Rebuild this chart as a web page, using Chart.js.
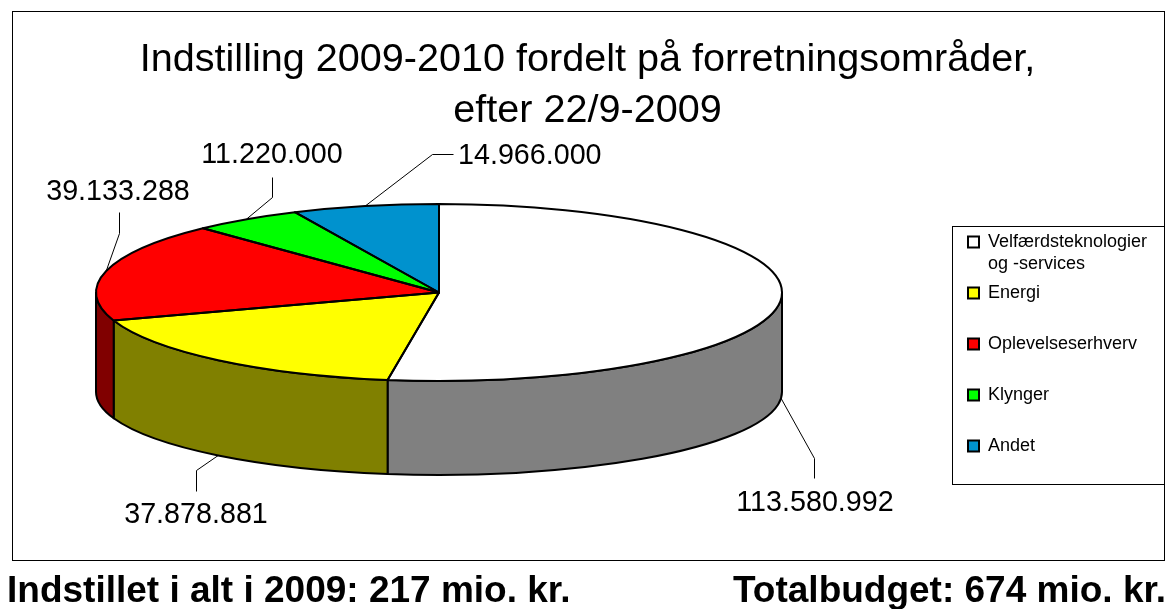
<!DOCTYPE html>
<html><head><meta charset="utf-8">
<style>
html,body{margin:0;padding:0;background:#fff;width:1171px;height:609px;overflow:hidden}
canvas{display:block;position:absolute;left:0;top:0}
.foot{position:absolute;top:570px;font:bold 37px "Liberation Sans",Arial,sans-serif;color:#000;white-space:nowrap;line-height:40px}
</style>
<script src="https://cdn.jsdelivr.net/npm/chart.js@4"></script>
</head><body>
<canvas id="c" width="1171" height="609"></canvas>
<div class="foot" style="left:7px">Indstillet i alt i 2009: 217 mio. kr.</div>
<div class="foot" style="left:733px">Totalbudget: 674 mio. kr.</div>
<script>
const categories = ["Velfærdsteknologier","Energi","Oplevelseserhverv","Klynger","Andet"];
const values = [113580992,37878881,39133288,11220000,14966000];
const valueLabels = ["113.580.992","37.878.881","39.133.288","11.220.000","14.966.000"];
const topColors = ["#FFFFFF","#FFFF00","#FF0000","#00FF00","#0092CE"];
const sideColors = ["#808080","#808000","#800000","#008000","#004967"];
const titleLines = ["Indstilling 2009-2010 fordelt på forretningsområder,","efter 22/9-2009"];
const legendSecondLine = "og -services";

// Drawing layout (not data)
const G = {cx:439, topY:292.5, rx:343, ry:88.5, botY:392, botRy:83};
const leaders = [
  {elbow:[814,458], end:[814,478], text:[815,503], align:"center"},
  {elbow:[196,470], end:[196,491], text:[196,515], align:"center"},
  {elbow:[119,233], end:[119,212], text:[118,192], align:"center"},
  {elbow:[272,197], end:[272,177], text:[272,155], align:"center"},
  {elbow:[432,154], end:[453,154], text:[458,156], align:"left"}
];

const pie3d = {
  id:"pie3d",
  beforeDraw(chart){
    const c = chart.ctx;
    c.save();
    c.fillStyle="#fff"; c.fillRect(0,0,1171,609);
    c.strokeStyle="#000"; c.lineWidth=1;
    c.strokeRect(12.5,11.5,1152,549);
    c.restore();
  },
  afterLayout(chart){
    const l = chart.legend;
    const p = chart.options.plugins.legend.labels.padding;
    l.left = 968 - p; l.top = 233 - p;
  },
  beforeDatasetsDraw(chart){
    const c = chart.ctx, arcs = chart.getDatasetMeta(0).data;
    c.save();
    c.lineWidth=2; c.strokeStyle="#000"; c.lineJoin="round";
    arcs.forEach((a,i)=>{
      const p = a.getProps(["startAngle","endAngle"],true);
      const s = Math.max(p.startAngle,0), e = Math.min(p.endAngle,Math.PI);
      if (e<=s) return;
      c.beginPath();
      c.ellipse(G.cx,G.topY,G.rx,G.ry,0,s,e);
      c.ellipse(G.cx,G.botY,G.rx,G.botRy,0,e,s,true);
      c.closePath();
      c.fillStyle=sideColors[i];
      c.fill(); c.stroke();
    });
    c.restore();
    const a0 = arcs[0].getProps(["x","y","outerRadius"],true);
    c.save();
    c.translate(G.cx,G.topY);
    c.scale(G.rx/a0.outerRadius,G.ry/a0.outerRadius);
    c.translate(-a0.x,-a0.y);
  },
  afterDatasetsDraw(chart){
    const c = chart.ctx, arcs = chart.getDatasetMeta(0).data;
    c.restore();
    c.save();
    c.lineWidth=2; c.strokeStyle="#000"; c.lineJoin="round";
    arcs.forEach(a=>{
      const p = a.getProps(["startAngle","endAngle"],true);
      c.beginPath();
      c.moveTo(G.cx,G.topY);
      c.ellipse(G.cx,G.topY,G.rx,G.ry,0,p.startAngle,p.endAngle);
      c.closePath();
      c.stroke();
    });
    // leader lines and value labels
    c.lineWidth=1;
    c.fillStyle="#000";
    c.font='28.7px "Liberation Sans",Arial,sans-serif';
    c.textBaseline="middle";
    arcs.forEach((a,i)=>{
      const p = a.getProps(["startAngle","endAngle"],true);
      const m = (p.startAngle+p.endAngle)/2;
      const front = Math.sin(m)>0;
      const ax = G.cx+G.rx*Math.cos(m);
      const ay = front ? G.botY+G.botRy*Math.sin(m) : G.topY+G.ry*Math.sin(m);
      const L = leaders[i];
      c.beginPath();
      c.moveTo(ax,ay);
      c.lineTo(L.elbow[0]+.5,L.elbow[1]+.5);
      c.lineTo(L.end[0]+.5,L.end[1]+.5);
      c.stroke();
      c.textAlign=L.align;
      c.fillText(valueLabels[i],L.text[0],L.text[1]);
    });
    c.restore();
  },
  afterDraw(chart){
    const c = chart.ctx;
    c.save();
    c.strokeStyle="#000"; c.lineWidth=1;
    c.strokeRect(952.5,226.5,212,258);
    c.fillStyle="#000";
    c.font='18px "Liberation Sans",Arial,sans-serif';
    c.textBaseline="middle";
    c.textAlign="left";
    c.fillText(legendSecondLine,988,264);
    c.restore();
  }
};

new Chart(document.getElementById("c"),{
  type:"pie",
  data:{labels:categories,datasets:[{data:values,backgroundColor:topColors,borderWidth:0,clip:false}]},
  plugins:[pie3d],
  options:{
    responsive:false,animation:false,
    layout:{padding:{top:34.5,left:14,right:10,bottom:60}},
    plugins:{
      tooltip:{enabled:false},
      title:{display:true,text:titleLines,color:"#000",padding:{top:0,bottom:10},
        font:{family:'"Liberation Sans",Arial,sans-serif',size:39.6,weight:"normal",lineHeight:1.288}},
      legend:{position:"right",align:"start",
        labels:{boxWidth:11,boxHeight:11,padding:33,color:"#000",
          font:{family:'"Liberation Sans",Arial,sans-serif',size:18},
          generateLabels(chart){
            return categories.map((t,i)=>({text:t,fillStyle:topColors[i],strokeStyle:"#000",lineWidth:2,index:i,hidden:false}));
          }}}
    }
  }
});
</script>
</body></html>
